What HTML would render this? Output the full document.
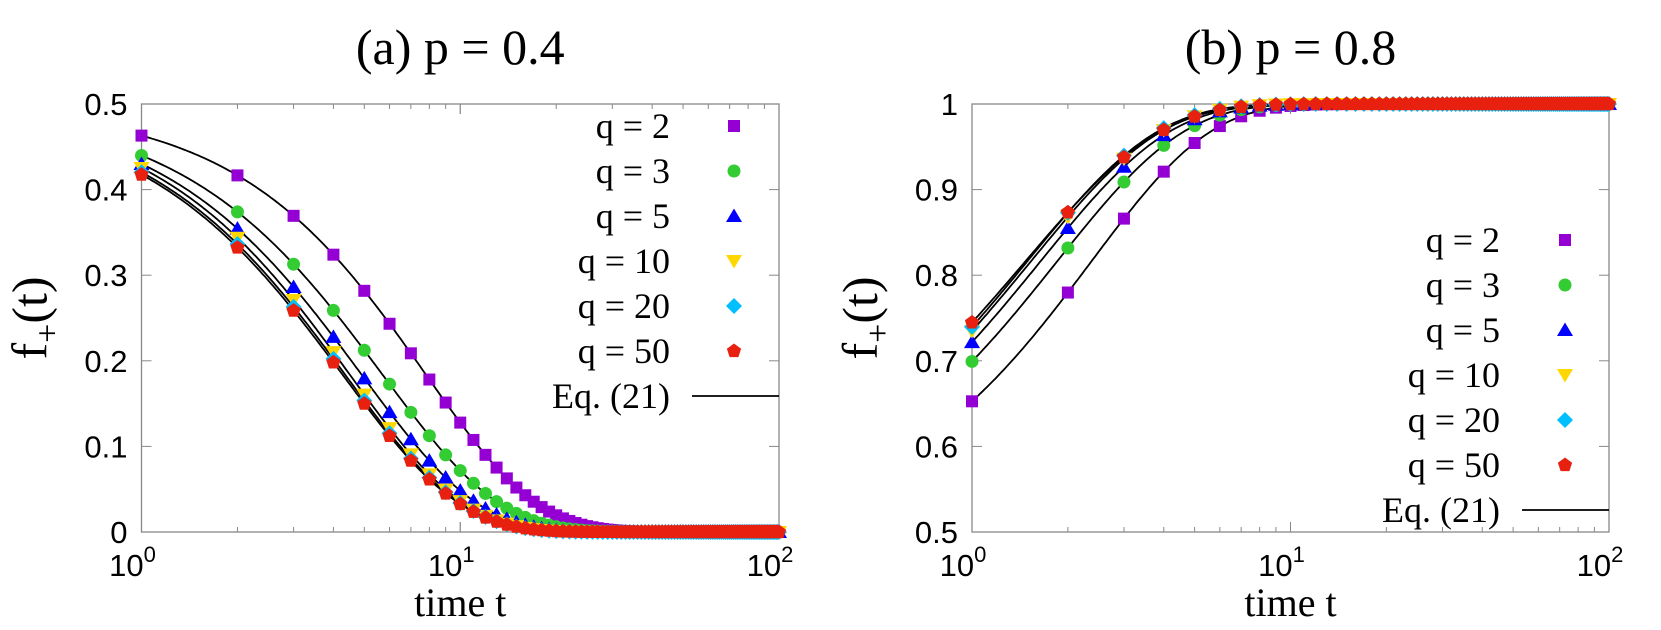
<!DOCTYPE html>
<html><head><meta charset="utf-8"><style>
html,body{margin:0;padding:0;background:#fff;}
svg text{font-family:"Liberation Serif",serif;}
.tk{font-family:"Liberation Sans",sans-serif;font-size:31px;}
</style></head><body>
<svg id="s" width="1661" height="625" xmlns="http://www.w3.org/2000/svg"></svg>
<script>
const S=document.getElementById('s');let h='';
const cols=['#9400D3','#33CC33','#0000FF','#FFD700','#00BFFF','#E8200F'];
function sym(k,x,y){const c=cols[k];
 if(k==0)return `<rect x="${x-6}" y="${y-6}" width="12" height="12" fill="${c}"/>`;
 if(k==1)return `<circle cx="${x}" cy="${y}" r="6.5" fill="${c}"/>`;
 if(k==2)return `<polygon points="${x},${y-7.5} ${x+8},${y+6} ${x-8},${y+6}" fill="${c}"/>`;
 if(k==3)return `<polygon points="${x},${y+7.5} ${x+8},${y-6} ${x-8},${y-6}" fill="${c}"/>`;
 if(k==4)return `<polygon points="${x},${y-8} ${x+8},${y} ${x},${y+8} ${x-8},${y}" fill="${c}"/>`;
 let p=[];for(let i=0;i<5;i++){const a=-Math.PI/2+i*2*Math.PI/5;p.push((x+7.5*Math.cos(a)).toFixed(1)+','+(y+7.5*Math.sin(a)).toFixed(1));}
 return `<polygon points="${p.join(' ')}" fill="${c}"/>`;}
const qs=['2','3','5','10','20','50'];
function panel(x0,x1,y0,y1,ymin,ylabs,title,fn,pars,legX,legSymX,legY,lineX0){
 const X=t=>x0+(x1-x0)*Math.log10(t)/2, Y=v=>y1-(y1-y0)*(v-ymin)/0.5;
 h+=`<rect x="${x0}" y="${y0}" width="${x1-x0}" height="${y1-y0}" fill="none" stroke="#888" stroke-width="1.3"/>`;
 for(let d=0;d<2;d++)for(let m=1;m<=10;m++){const t=Math.pow(10,d)*m;const x=X(t);const L=(m==1||m==10)?10:5;
  h+=`<line x1="${x}" y1="${y1}" x2="${x}" y2="${y1-L}" stroke="#888"/><line x1="${x}" y1="${y0}" x2="${x}" y2="${y0+L}" stroke="#888"/>`;}
 for(let i=0;i<=5;i++){const y=Y(ymin+i*0.1);
  h+=`<line x1="${x0}" y1="${y}" x2="${x0+10}" y2="${y}" stroke="#888"/><line x1="${x1}" y1="${y}" x2="${x1-10}" y2="${y}" stroke="#888"/>`;
  h+=`<text class="tk" x="${x0-14}" y="${y+11}" text-anchor="end">${ylabs[i]}</text>`;}
 [0,1,2].forEach(e=>{const x=X(Math.pow(10,e));h+=`<text class="tk" x="${x-9}" y="${y1+44}" text-anchor="middle">10<tspan dy="-14" font-size="22">${e}</tspan></text>`;});
 h+=`<text x="${(x0+x1)/2}" y="${y1+84}" font-size="40" text-anchor="middle">time t</text>`;
 h+=`<text x="${(x0+x1)/2}" y="64" font-size="50" text-anchor="middle">${title}</text>`;
 h+=`<text transform="translate(${x0-95},${(y0+y1)/2}) rotate(-90)" font-size="50" text-anchor="middle">f<tspan dy="12" font-size="34">+</tspan><tspan dy="-12">(t)</tspan></text>`;
 pars.forEach(p=>{let d='';for(let i=0;i<=300;i++){const t=Math.pow(10,i/150);d+=(i?'L':'M')+X(t).toFixed(1)+','+Y(fn(t,p)).toFixed(1);}
  h+=`<path d="${d}" fill="none" stroke="#000" stroke-width="1.8"/>`;});
 pars.forEach((p,k)=>{for(let t=1;t<=100;t++)h+=sym(k,X(t),Y(fn(t,p)));});
 for(let k=0;k<6;k++){const y=legY+k*45;h+=`<text x="${legX}" y="${y+12}" font-size="36" text-anchor="end">q = ${qs[k]}</text>`+sym(k,legSymX,y);}
 const y=legY+6*45;h+=`<text x="${legX}" y="${y+12}" font-size="36" text-anchor="end">Eq. (21)</text><line x1="${lineX0}" y1="${y}" x2="${x1}" y2="${y}" stroke="#000" stroke-width="1.8"/>`;
}
const fa=(t,p)=>0.5*Math.exp(-Math.pow(t/p[0],p[1]));
const fb=(t,p)=>1-0.5*Math.exp(-Math.pow(t/p[0],p[1]));
panel(141.5,779,104,532,0,['0','0.1','0.2','0.3','0.4','0.5'],'(a) p = 0.4',fa,
 [[7.8,1.25],[5.7,1.18],[4.9,1.19],[4.5,1.21],[4.35,1.19],[4.27,1.18]],670,734,126,692);
panel(972,1609,104,532,0.5,['0.5','0.6','0.7','0.8','0.9','1'],'(b) p = 0.8',fb,
 [[2.37,1.17],[1.85,1.1],[1.64,1.08],[1.53,1.07],[1.49,1.07],[1.47,1.03]],1500,1565,240,1522);
S.innerHTML=h;
</script>
</body></html>
